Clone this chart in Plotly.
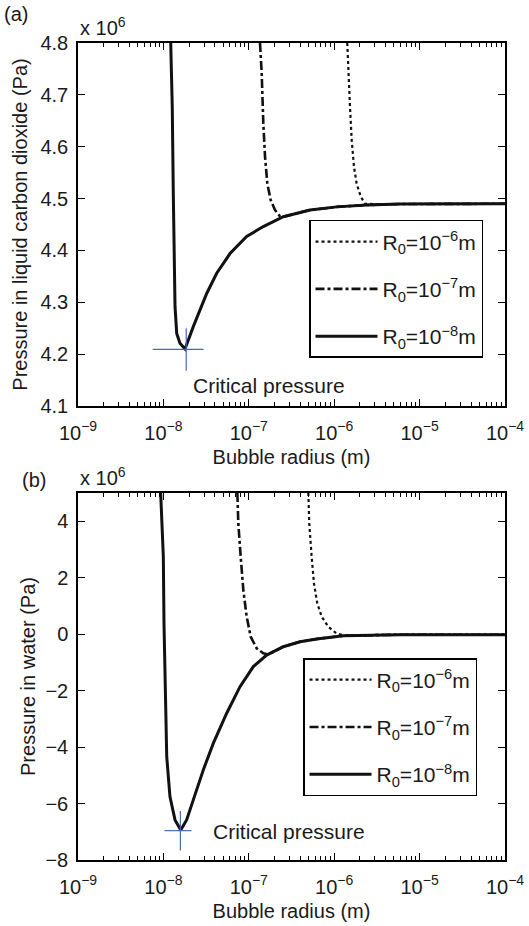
import plotly.graph_objects as go

# ---------------- data (radius in m, pressure in 1e6 Pa) ----------------
# Panel (a): liquid carbon dioxide
a_r_1e6 = [1.422e-6, 1.462e-6, 1.531e-6, 1.603e-6, 1.706e-6, 1.832e-6, 2.042e-6, 2.291e-6, 3.162e-6, 5.888e-6, 1e-4]
a_p_1e6 = [4.80, 4.742, 4.677, 4.613, 4.561, 4.529, 4.504, 4.490, 4.489, 4.4895, 4.49]

a_r_1e7 = [1.352e-7, 1.416e-7, 1.479e-7, 1.549e-7, 1.648e-7, 1.803e-7, 2.028e-7, 2.317e-7, 2.535e-7, 5.21e-7, 1.069e-6, 2.399e-6, 5.888e-6, 1e-4]
a_p_1e7 = [4.80, 4.742, 4.645, 4.581, 4.529, 4.497, 4.478, 4.466, 4.465, 4.478, 4.484, 4.4876, 4.4895, 4.49]

a_r_1e8 = [1.216e-8, 1.27e-8, 1.306e-8, 1.342e-8, 1.368e-8, 1.432e-8, 1.563e-8, 1.791e-8, 1.958e-8, 2.239e-8,
           3.214e-8, 4.207e-8, 6.026e-8, 9.44e-8, 1.479e-7, 2.535e-7, 5.21e-7, 1.069e-6, 2.399e-6, 5.888e-6, 1e-4]
a_p_1e8 = [4.806, 4.677, 4.510, 4.356, 4.292, 4.240, 4.221, 4.210, 4.227, 4.253,
           4.317, 4.356, 4.394, 4.427, 4.446, 4.465, 4.478, 4.484, 4.4876, 4.4895, 4.49]

a_crit_r, a_crit_p = 1.85e-8, 4.209
a_crit_dr, a_crit_dp = 1.1e-8, 0.041

# Panel (b): water
b_r_1e6 = [4.977e-7, 5.105e-7, 5.445e-7, 5.794e-7, 6.339e-7, 7.129e-7, 8.531e-7, 1.069e-6, 1.279e-6, 2.399e-6, 5.888e-6, 1e-4]
b_p_1e6 = [5.0, 3.93, 2.74, 1.80, 1.09, 0.62, 0.26, 0.02, -0.04, -0.03, -0.02, -0.02]

b_r_1e7 = [7.345e-8, 7.534e-8, 8.035e-8, 8.63e-8, 9.441e-8, 1.052e-7, 1.236e-7, 1.479e-7, 1.69e-7, 1.936e-7,
           2.535e-7, 3.981e-7, 6.237e-7, 1.279e-6, 2.399e-6, 5.888e-6, 1e-4]
b_p_1e7 = [5.0, 3.93, 2.74, 1.56, 0.62, -0.09, -0.50, -0.68, -0.72, -0.62,
           -0.445, -0.267, -0.17, -0.055, -0.03, -0.02, -0.02]

b_r_1e8 = [9.29e-9, 9.98e-9, 1.016e-8, 1.045e-8, 1.094e-8, 1.194e-8, 1.368e-8, 1.596e-8, 1.871e-8, 2.239e-8,
           2.931e-8, 3.837e-8, 5.508e-8, 7.889e-8, 1.13e-7, 1.618e-7, 2.535e-7, 3.981e-7, 6.237e-7, 1.279e-6,
           2.399e-6, 5.888e-6, 1e-4]
b_p_1e8 = [5.0, 2.74, 0.384, -1.98, -4.34, -5.76, -6.58, -6.94, -6.58, -5.87,
           -4.81, -3.87, -2.80, -1.86, -1.15, -0.74, -0.445, -0.267, -0.17, -0.055,
           -0.03, -0.02, -0.02]

b_crit_r, b_crit_p = 1.58e-8, -6.96
b_crit_dr, b_crit_dp = 0.55e-8, 0.70

x_tickvals = [1e-9, 1e-8, 1e-7, 1e-6, 1e-5, 1e-4]
x_ticktext = ["10<sup>\u22129</sup>", "10<sup>\u22128</sup>", "10<sup>\u22127</sup>",
              "10<sup>\u22126</sup>", "10<sup>\u22125</sup>", "10<sup>\u22124</sup>"]
x_minor = [k * 10.0 ** e for e in range(-9, -4) for k in range(2, 10)]

legend_names = ["R<sub>0</sub>=10<sup>\u22126</sup>m", "R<sub>0</sub>=10<sup>\u22127</sup>m",
                "R<sub>0</sub>=10<sup>\u22128</sup>m"]

# ---------------- style ----------------
FONT = "Liberation Sans, Arial, sans-serif"
TXT = "#1a1a1a"
BLUE = "#4a68b8"
FS = 20

fig = go.Figure()

styles = [dict(dash="dot", width=2.2), dict(dash="dashdot", width=2.6), dict(dash="solid", width=3)]

def add_panel(xref, yref, legend, series, crit):
    for i, ((r, p), name) in enumerate(zip(series, legend_names)):
        fig.add_trace(go.Scatter(
            x=r, y=p, mode="lines", name=name, xaxis=xref, yaxis=yref,
            line=dict(color="#111111", **styles[i]), legend=legend,
            legendgroup=legend + str(i), hoverinfo="skip"))
    cr, cp, dr, dp = crit
    fig.add_trace(go.Scatter(
        x=[cr], y=[cp], mode="markers", xaxis=xref, yaxis=yref, showlegend=False,
        marker=dict(size=1, color=BLUE, opacity=0),
        error_x=dict(type="data", array=[dr], width=0, color=BLUE, thickness=1.2),
        error_y=dict(type="data", array=[dp], width=0, color=BLUE, thickness=1.2),
        hoverinfo="skip"))

add_panel("x", "y", "legend",
          [(a_r_1e6, a_p_1e6), (a_r_1e7, a_p_1e7), (a_r_1e8, a_p_1e8)],
          (a_crit_r, a_crit_p, a_crit_dr, a_crit_dp))
add_panel("x2", "y2", "legend2",
          [(b_r_1e6, b_p_1e6), (b_r_1e7, b_p_1e7), (b_r_1e8, b_p_1e8)],
          (b_crit_r, b_crit_p, b_crit_dr, b_crit_dp))

xax = dict(type="log", range=[-9, -4], tickvals=x_tickvals, ticktext=x_ticktext, automargin=False,
           ticks="inside", ticklen=7, tickwidth=1, tickcolor="black", ticklabelstandoff=8,
           showline=True, linecolor="black", linewidth=1.5, mirror="allticks",
           showgrid=False, zeroline=False,
           minor=dict(tickvals=x_minor, ticks="inside", ticklen=4, tickcolor="black", showgrid=False),
           tickfont=dict(size=FS, color=TXT, family=FONT),
           title=dict(text="Bubble radius (m)", font=dict(size=FS, color=TXT, family=FONT), standoff=7))

yax_common = dict(ticks="inside", ticklen=7, tickwidth=1, tickcolor="black", automargin=False,
                  showline=True, linecolor="black", linewidth=1.5, mirror="allticks",
                  showgrid=False, zeroline=False, ticklabelstandoff=4,
                  tickfont=dict(size=FS, color=TXT, family=FONT))

fig.update_layout(
    width=529, height=926,
    margin=dict(l=78, r=24, t=43, b=66),
    paper_bgcolor="white", plot_bgcolor="white",
    font=dict(family=FONT, size=FS, color=TXT),
    xaxis=dict(domain=[0, 1], anchor="y", **xax),
    yaxis=dict(domain=[0.5557, 1.0], anchor="x", range=[4.1, 4.8], dtick=0.1, tickformat=".1f",
               title=dict(text="Pressure in liquid carbon dioxide (Pa)",
                          font=dict(size=FS, color=TXT, family=FONT), standoff=7),
               **yax_common),
    xaxis2=dict(domain=[0, 1], anchor="y2", **xax),
    yaxis2=dict(domain=[0.0, 0.4492], anchor="x2", range=[-8, 5], tickvals=[-8, -6, -4, -2, 0, 2, 4],
                title=dict(text="Pressure in water (Pa)",
                           font=dict(size=FS, color=TXT, family=FONT), standoff=4),
                **yax_common),
    legend=dict(x=0.541, y=0.7834, xanchor="left", yanchor="top",
                bgcolor="white", bordercolor="black", borderwidth=1.5,
                font=dict(size=21, color=TXT, family=FONT), itemwidth=62,
                tracegroupgap=17),
    legend2=dict(x=0.527, y=0.2472, xanchor="left", yanchor="top",
                 bgcolor="white", bordercolor="black", borderwidth=1.5,
                 font=dict(size=21, color=TXT, family=FONT), itemwidth=62,
                 tracegroupgap=17),
    showlegend=True,
    annotations=[
        dict(text="(a)", x=0.0, y=1.0, xref="paper", yref="paper", showarrow=False,
             xanchor="left", yanchor="bottom", font=dict(size=FS, color=TXT, family=FONT),
             xshift=-76, yshift=16),
        dict(text="x 10<sup>6</sup>", x=0.0, y=1.0, xref="paper", yref="paper", showarrow=False,
             xanchor="left", yanchor="bottom", font=dict(size=FS, color=TXT, family=FONT), yshift=2),
        dict(text="(b)", x=0.0, y=0.4492, xref="paper", yref="paper", showarrow=False,
             xanchor="left", yanchor="bottom", font=dict(size=FS, color=TXT, family=FONT),
             xshift=-58, yshift=0),
        dict(text="x 10<sup>6</sup>", x=0.0, y=0.4492, xref="paper", yref="paper", showarrow=False,
             xanchor="left", yanchor="bottom", font=dict(size=FS, color=TXT, family=FONT), yshift=2),
        dict(text="Critical pressure", x=-7.676, y=4.14, xref="x", yref="y", showarrow=False,
             xanchor="left", yanchor="middle", font=dict(size=21, color=TXT, family=FONT)),
        dict(text="Critical pressure", x=-7.446, y=-7.0, xref="x2", yref="y2", showarrow=False,
             xanchor="left", yanchor="middle", font=dict(size=21, color=TXT, family=FONT)),
    ],
)

fig.write_html("out.html", config={"displayModeBar": False},
               post_script="document.body.style.margin='0px';")
